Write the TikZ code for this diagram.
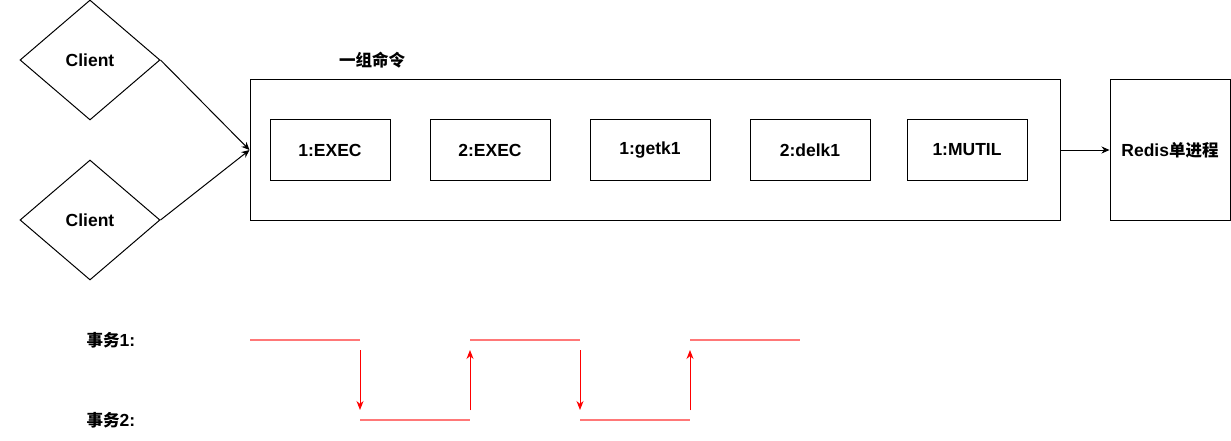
\documentclass[tikz,border=0pt]{standalone}
\usepackage{fontspec}
\setmainfont{Liberation Sans}
\newfontfamily\cjk{Noto Sans CJK SC}
\newcommand{\zh}[1]{{\fontsize{16.5}{20}\selectfont\cjk\bfseries #1}}
\usetikzlibrary{shapes.geometric,arrows.meta}
\begin{document}
\begin{tikzpicture}[x=1pt,y=-1pt,line width=1pt,
  every node/.style={font=\fontsize{17.5}{20}\selectfont\bfseries},
  client/.style={diamond,draw,minimum width=140pt,minimum height=120pt,inner sep=0pt},
  cmdbox/.style={draw,minimum width=120pt,minimum height=60pt,inner sep=0pt},
  arr/.style={-{Stealth[length=8pt,width=7pt]}},
  redline/.style={draw={rgb,255:red,255;green,120;blue,120},line width=1.3pt},
  redarr/.style={draw=red,line width=1pt,-{Stealth[length=9pt,width=7pt]},fill=red}]
\useasboundingbox (0,0) rectangle (1231,441);
\node[client] (c1) at (90,60) {Client};
\node[client] (c2) at (90,220) {Client};
\node[draw,minimum width=810pt,minimum height=140pt,inner sep=0pt] (grp) at (655,150) {};
\node (grplabel) at (372,60) {\zh{一组命令}};
\node[cmdbox] (b1) at (330,150) {1:EXEC};
\node[cmdbox] (b2) at (490,150) {2:EXEC};
\node[cmdbox] (b3) at (650,150) {1:getk1};
\node[cmdbox] (b4) at (810,150) {2:delk1};
\node[cmdbox] (b5) at (967,150) {1:MUTIL};
\node[draw,minimum width=120pt,minimum height=140pt,inner sep=0pt] (redis) at (1170,150) {Redis\zh{单进程}};
\draw[arr] (c1.east) -- (grp.west);
\draw[arr] (c2.east) -- (grp.west);
\draw[arr] (grp.east) -- (redis.west);
\node (t1) at (111,340) {\zh{事务}1:};
\node (t2) at (111,420) {\zh{事务}2:};
% timelines
\coordinate (a0) at (250,340); \coordinate (a1) at (360,340);
\coordinate (a2) at (470,340); \coordinate (a3) at (580,340);
\coordinate (a4) at (690,340); \coordinate (a5) at (800,340);
\coordinate (b0) at (360,420); \coordinate (b1e) at (470,420);
\coordinate (b2s) at (580,420); \coordinate (b3e) at (690,420);
\draw[redline] (a0) -- (a1);
\draw[redline] (a2) -- (a3);
\draw[redline] (a4) -- (a5);
\draw[redline] (b0) -- (b1e);
\draw[redline] (b2s) -- (b3e);
\coordinate (d1s) at (360,350); \coordinate (d1e) at (360,410);
\coordinate (u1s) at (470,410); \coordinate (u1e) at (470,350);
\coordinate (d2s) at (580,350); \coordinate (d2e) at (580,410);
\coordinate (u2s) at (690,410); \coordinate (u2e) at (690,350);
\draw[redarr] (d1s) -- (d1e);
\draw[redarr] (u1s) -- (u1e);
\draw[redarr] (d2s) -- (d2e);
\draw[redarr] (u2s) -- (u2e);
\end{tikzpicture}
\end{document}
